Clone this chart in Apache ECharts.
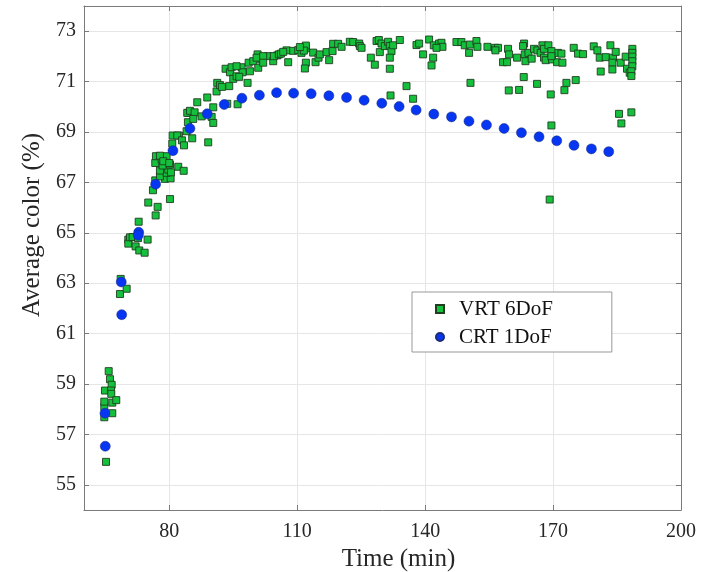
<!DOCTYPE html>
<html>
<head>
<meta charset="utf-8">
<script src="https://cdn.jsdelivr.net/npm/echarts@6/dist/echarts.min.js"></script>
<style>
html,body{margin:0;padding:0;background:#fff;}
#chart{width:718px;height:572px;}
</style>
</head>
<body>
<div id="chart"></div>
<script>
// ---- data ----
const xTicks = [80, 110, 140, 170, 200];
const yTicks = [55, 57, 59, 61, 63, 65, 67, 69, 71, 73];

const crtTime = [64.92, 64.99, 68.74, 68.84, 72.82, 72.73, 76.80, 80.86, 84.84, 88.90, 92.88, 97.03, 101.13, 105.16, 109.15, 113.27, 117.42, 121.57, 125.69, 129.84, 133.90, 137.88, 142.03, 146.18, 150.28, 154.38, 158.51, 162.58, 166.71, 170.86, 174.91, 178.99, 183.05];
const crtColor = [57.84, 56.53, 63.05, 61.75, 65.02, 64.90, 66.93, 68.26, 69.14, 69.72, 70.09, 70.34, 70.46, 70.56, 70.54, 70.52, 70.44, 70.37, 70.26, 70.14, 70.01, 69.87, 69.71, 69.60, 69.43, 69.28, 69.14, 68.97, 68.81, 68.65, 68.47, 68.33, 68.22];

const vrtTime = [
 64.76, 64.76, 64.76, 64.92, 65.16, 65.79, 66.09, 66.49, 66.33, 66.40, 66.63, 66.63, 67.57,
 68.60, 68.44, 70.00, 70.39, 70.39, 70.78, 71.41, 72.11, 72.66, 72.82, 72.96, 74.22, 74.92,
 75.07, 76.80, 77.27, 76.17, 80.16, 76.71, 78.98, 77.81, 80.31, 79.37, 77.81, 79.76, 78.44,
 80.16, 76.71, 78.21, 79.37, 76.87, 77.81, 78.59, 79.99, 80.39, 82.10, 83.37, 80.70, 80.79,
 82.26, 81.87, 82.97, 83.44, 85.38, 89.13, 84.06, 84.37, 84.61, 84.21, 84.84, 85.94, 85.62,
 87.58, 89.93, 90.31, 86.56, 88.90, 90.31, 91.09, 91.25, 91.88, 92.34, 94.06, 93.59, 96.02,
 93.20, 94.22, 95.00, 95.78, 94.61, 96.96, 97.19, 98.36, 98.91, 98.61, 99.69, 100.71, 100.86,
 101.56, 103.20, 104.37, 105.31, 96.40, 95.78, 100.47, 102.02, 104.53, 105.70, 107.50, 102.02,
 106.17, 106.71, 107.88, 109.06, 110.23, 111.40, 112.03, 112.03, 111.80, 111.00, 112.03, 111.56,
 110.63, 113.74, 114.30, 115.00, 115.31, 116.88, 117.49, 118.29, 118.43, 119.60, 120.40, 122.34,
 123.12, 124.53, 124.69, 125.09, 127.26, 128.20, 128.60, 129.14, 129.77, 129.37, 130.55, 131.32,
 131.72, 132.11, 132.49, 131.72, 131.72, 134.06, 135.63, 131.88, 137.18, 137.97, 138.59, 139.52,
 140.93, 142.03, 143.27, 143.83, 144.06, 142.66, 141.88, 141.50, 147.34, 148.51, 149.29, 150.47,
 150.31, 152.03, 152.26, 154.61, 156.39, 157.09, 156.48, 159.44, 159.68, 158.27, 159.21, 161.55,
 163.20, 162.96, 163.36, 163.52, 164.22, 164.98, 165.53, 166.33, 167.09, 167.50, 167.88, 168.91,
 167.88, 168.27, 169.76, 170.93, 171.16, 150.63, 163.12, 159.61, 162.03, 166.24, 169.45, 169.61,
 169.61, 171.96, 172.19, 174.84, 175.86, 177.03, 179.53, 180.39, 180.94, 182.34, 183.44, 184.06,
 183.91, 184.69, 183.91, 181.17, 185.86, 187.03, 187.34, 187.97, 188.59, 188.59, 188.59, 188.59,
 188.59, 188.36, 188.36, 173.13, 175.31, 172.66, 169.61, 185.47, 188.36, 186.02, 169.21
];
const vrtColor = [
 57.68, 58.09, 58.30, 58.74, 55.91, 59.51, 59.19, 58.97, 58.74, 58.61, 58.26, 57.84, 58.36,
 63.17, 62.57, 62.78, 64.73, 64.57, 64.82, 64.83, 64.46, 64.79, 65.44, 64.30, 64.21, 64.73,
 66.20, 65.69, 66.03, 66.69, 66.34, 67.08, 67.14, 67.24, 67.16, 67.38, 67.47, 67.51, 67.67,
 67.71, 67.77, 67.91, 68.04, 68.04, 68.06, 67.84, 67.77, 67.40, 67.62, 67.46, 68.54, 68.86,
 68.86, 68.86, 68.67, 68.47, 68.75, 68.59, 69.03, 69.39, 69.76, 69.76, 69.84, 69.78, 69.52,
 69.62, 69.60, 69.36, 70.18, 70.37, 69.98, 70.61, 70.95, 70.86, 70.79, 70.82, 70.12, 70.10,
 71.51, 71.37, 71.11, 71.21, 71.57, 71.57, 71.37, 70.95, 71.41, 71.75, 71.81, 72.08, 71.55,
 71.88, 72.01, 71.81, 72.04, 71.19, 71.61, 71.95, 72.01, 72.01, 72.08, 72.24, 71.75,
 72.11, 72.18, 71.77, 72.22, 72.25, 72.28, 72.32, 71.75, 71.52, 72.14, 72.43, 72.23,
 72.37, 72.15, 71.77, 71.95, 72.08, 72.17, 71.85, 72.21, 72.50, 72.50, 72.38, 72.58,
 72.57, 72.51, 72.41, 72.34, 71.95, 71.67, 72.61, 72.65, 72.51, 72.17, 72.41, 72.58,
 72.41, 72.21, 72.44, 71.95, 71.51, 72.65, 70.82, 70.45, 70.32, 72.45, 72.51, 72.08,
 72.67, 72.44, 72.51, 72.54, 72.38, 72.34, 71.95, 71.64, 72.57, 72.57, 72.44, 72.47,
 72.14, 72.61, 72.38, 72.38, 72.34, 72.34, 72.24, 72.30, 72.08, 71.77, 71.77, 71.95,
 72.51, 72.41, 72.08, 71.81, 72.14, 71.91, 72.30, 72.24, 72.14, 72.44, 72.30, 72.44,
 71.95, 71.85, 71.88, 71.77, 72.14, 70.95, 71.18, 70.65, 70.67, 70.91, 70.49, 72.21,
 72.01, 72.11, 71.75, 72.34, 72.11, 72.09, 72.40, 72.24, 71.95, 71.97, 72.44, 71.95,
 71.75, 72.18, 71.48, 71.40, 71.75, 71.99, 71.51, 71.35, 72.30, 72.14, 71.99, 71.81,
 71.61, 71.41, 71.22, 70.95, 71.06, 70.66, 69.26, 69.72, 69.78, 69.34, 66.32
];

const seriesNames = ['VRT 6DoF', 'CRT 1DoF'];
const xName = 'Time (min)';
const yName = 'Average color (%)';

// ---- chart ----
const pair = (xs, ys) => xs.map((x, i) => [x, ys[i]]);
const FONT = 'Liberation Serif';
const axisGray = '#7a7a7a';
const gridGray = '#e6e6e6';
const textColor = '#262626';

const chart = echarts.init(document.getElementById('chart'), null, {renderer: 'canvas'});

const baseAxis = {
  type: 'value',
  axisLine: {show: true, onZero: false, lineStyle: {color: axisGray, width: 1}},
  axisTick: {show: true, inside: true, length: 5, lineStyle: {color: axisGray}},
  splitLine: {show: false},
  axisLabel: {show: false}
};

chart.setOption({
  animation: false,
  backgroundColor: '#ffffff',
  grid: {left: 84, right: 37, top: 6, bottom: 62, containLabel: false, outerBoundsMode: 'none'},
  xAxis: [
    Object.assign({}, baseAxis, {
      position: 'bottom', min: 60, max: 200,
      axisTick: {show: true, inside: true, length: 5, customValues: xTicks, lineStyle: {color: axisGray}},
      axisLabel: {show: true, customValues: xTicks, fontFamily: FONT, fontSize: 20, color: textColor, margin: 12},
      splitLine: {show: true, lineStyle: {color: gridGray, width: 1}},
      name: xName, nameLocation: 'middle', nameGap: 30,
      nameTextStyle: {fontFamily: FONT, fontSize: 25, color: textColor, padding: [0, 0, 0, 32]}
    }),
    Object.assign({}, baseAxis, {
      position: 'top', min: 60, max: 200,
      axisTick: {show: true, inside: true, length: 5, customValues: xTicks, lineStyle: {color: axisGray}}
    })
  ],
  yAxis: [
    Object.assign({}, baseAxis, {
      position: 'left', min: 54, max: 74,
      axisTick: {show: true, inside: true, length: 5, customValues: yTicks, lineStyle: {color: axisGray}},
      axisLabel: {show: true, customValues: yTicks, fontFamily: FONT, fontSize: 20, color: textColor, margin: 8},
      splitLine: {show: true, lineStyle: {color: gridGray, width: 1}},
      name: yName, nameLocation: 'middle', nameGap: 37,
      nameTextStyle: {fontFamily: FONT, fontSize: 25, color: textColor, padding: [0, 0, 0, 66]}
    }),
    Object.assign({}, baseAxis, {
      position: 'right', min: 54, max: 74,
      axisTick: {show: true, inside: true, length: 5, customValues: yTicks, lineStyle: {color: axisGray}}
    })
  ],
  legend: {
    orient: 'vertical',
    left: 412, top: 292,
    padding: [3, 59, 1, 23],
    itemGap: 0,
    itemWidth: 8, itemHeight: 8,
    backgroundColor: '#ffffff',
    borderColor: '#999999', borderWidth: 1,
    textStyle: {fontFamily: FONT, fontSize: 21, color: '#111111', lineHeight: 28, padding: [0, 0, 0, 10]},
    data: [
      {name: seriesNames[0], icon: 'rect'},
      {name: seriesNames[1], icon: 'circle'}
    ]
  },
  series: [
    {
      name: seriesNames[0],
      type: 'scatter',
      symbol: 'rect',
      symbolSize: 7,
      data: pair(vrtTime, vrtColor),
      itemStyle: {color: '#14c03c', borderColor: '#1f3d1f', borderWidth: 0.9, opacity: 1},
      z: 2
    },
    {
      name: seriesNames[1],
      type: 'scatter',
      symbol: 'circle',
      symbolSize: 10,
      data: pair(crtTime, crtColor),
      itemStyle: {color: '#0736f2', borderColor: '#1b2a7a', borderWidth: 0.5, opacity: 1},
      z: 3
    }
  ]
});
</script>
</body>
</html>
